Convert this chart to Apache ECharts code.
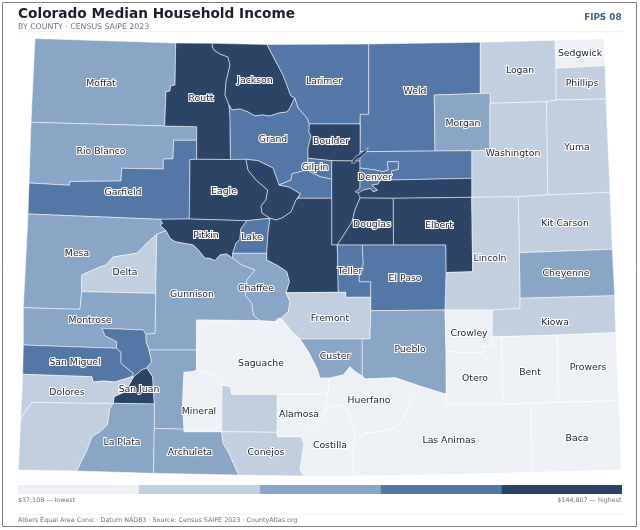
<!DOCTYPE html>
<html><head><meta charset="utf-8">
<style>html,body{margin:0;padding:0;background:#fff}#c{width:640px;height:530px}</style>
<script src="https://cdn.jsdelivr.net/npm/echarts@6/dist/echarts.min.js"></script></head>
<body><div id="c"></div>
<script>
// ---- values (class colour -> estimated income) ----
const counties = ["Moffat","Rio Blanco","Garfield","Mesa","Delta","Routt","Jackson","Larimer","Weld","Logan","Sedgwick","Phillips","Morgan","Washington","Yuma","Grand","Boulder","Eagle","Summit","Pitkin","Lake","Gilpin","Clear Creek","Jefferson","Adams","Arapahoe","Denver","Broomfield","Douglas","Elbert","Kit Carson","Cheyenne","Lincoln","Park","Chaffee","Gunnison","Teller","El Paso","Fremont","Custer","Pueblo","Crowley","Kiowa","Otero","Bent","Prowers","Montrose","San Miguel","Ouray","San Juan","Hinsdale","Dolores","Montezuma","La Plata","Archuleta","Mineral","Rio Grande","Conejos","Saguache","Alamosa","Costilla","Huerfano","Las Animas","Baca"];
const incomes = [86000,84500,109000,83000,68000,128000,131000,112000,115000,66000,45000,67000,87000,66500,68500,108000,136000,135000,133000,129000,104000,110000,113000,127000,106000,124500,107000,138000,144807,140000,64000,90000,62000,125000,88000,85000,111000,114000,69000,83500,82000,37108,63000,46000,42000,47000,84000,117000,105000,126000,89000,61000,65500,92000,91000,48000,60000,59000,44000,50000,39000,41000,47500,40000];
const unlabelled = ["Summit","Clear Creek","Jefferson","Adams","Arapahoe","Broomfield","Park","Ouray","Hinsdale","Montezuma","Rio Grande"];
const classBreaks = [37108,58648,80187,101727,123267,144807];
const classColors = ["#edf1f6","#c2cfe0","#8aa6c6","#5378a5","#2c4566"];
const titleText = "Colorado Median Household Income";
const subtitleText = "BY COUNTY · CENSUS SAIPE 2023";
const fipsText = "FIPS 08";
const lowText = "$37,108 — lowest";
const highText = "$144,807 — highest";
const footerText = "Albers Equal Area Conic · Datum NAD83 · Source: Census SAIPE 2023 · CountyAtlas.org";

// ---- basemap: county outlines and label anchors in the map's own plane ----
const outlines = {
"Moffat":[[35,38.5],[175.7,43],[175,85],[170.5,86],[170,91],[166,91.7],[164.7,126],[31,122.3]],
"Rio Blanco":[[31,122.3],[164.7,126],[196.7,126.7],[196.7,140.3],[173.7,140.3],[173,159],[163.3,159],[163.3,169],[121.7,168.3],[121,181],[70,181.5],[69.5,185.3],[29,183]],
"Garfield":[[29,183],[69.5,185.3],[70,181.5],[121,181],[121.7,168.3],[163.3,169],[163.3,159],[173,159],[173.7,140.3],[196.7,140.3],[196.7,159.3],[190,159.5],[189.3,219],[160,219.3],[28,214]],
"Mesa":[[28,214],[160,219.3],[162.7,223.3],[160,225],[166,230.7],[156.7,234.3],[146.7,243.3],[136.7,253.3],[113,257],[106,265],[100,267],[81.7,275],[81.7,291.7],[80,309.3],[23.3,307.7]],
"Delta":[[81.7,275],[100,267],[106,265],[113,257],[136.7,253.3],[146.7,243.3],[156.7,234.3],[155.7,293.3],[81.7,291.7]],
"Routt":[[175.7,43],[213,43.3],[212,46],[214,50],[220,54],[228,57],[230,65],[226,82],[225,95],[229,105],[230,115],[230.5,159.5],[196.7,159.3],[196.7,126.7],[164.7,126],[166,91.7],[170,91],[170.5,86],[175,85]],
"Jackson":[[213,43.3],[267,44.5],[274,58],[283,75],[291,96],[294.7,98],[290,108],[287,112],[279,113],[270,116],[262,115],[255,116],[248,112],[240,109],[232,110],[229,105],[225,95],[226,82],[230,65],[228,57],[220,54],[214,50],[212,46]],
"Larimer":[[267,44.5],[368.7,44],[368.7,114.3],[360.3,114.3],[360,124],[309.3,124],[307,118],[298,108],[294.7,98],[291,96],[283,75],[274,58]],
"Weld":[[368.7,44],[480.3,42.3],[480.3,93.5],[434.3,95],[435,151],[360,151.7],[360.3,114.3],[368.7,114.3]],
"Logan":[[480.3,42.3],[555,40.3],[556,68.3],[556.3,100],[546.7,101.7],[490,103.3],[490,93.3],[480.3,93.5]],
"Sedgwick":[[555,40.3],[604,38.7],[605,65.7],[556,68.3]],
"Phillips":[[556,68.3],[605,65.7],[606,99],[556.3,100]],
"Morgan":[[434.3,95],[480.3,93.5],[490,93.3],[490,150],[471.7,150.7],[435,151]],
"Washington":[[490,103.3],[546.7,101.7],[547.7,195],[518.3,196.7],[471.7,197.3],[471.7,150.7],[490,150]],
"Yuma":[[546.7,101.7],[556.3,100],[606,99],[610,192.3],[547.7,195]],
"Grand":[[229,105],[232,110],[240,109],[248,112],[255,116],[262,115],[270,116],[279,113],[287,112],[290,108],[294.7,98],[298,108],[307,118],[309.3,124],[309,132],[311,136],[308,148],[308,158.3],[306.7,170],[292,173.7],[291,180],[279,185],[273,168],[258,160.7],[246,159.3],[230.5,159.5],[230,115]],
"Boulder":[[309.3,124],[360,124],[360,161],[331.7,160.7],[308,158.3],[308,148],[311,136],[309,132]],
"Eagle":[[190,159.5],[196.7,159.3],[230.5,159.5],[246,159.3],[248,170],[256,180],[267.7,190],[266,200],[261,206],[262,213],[270,218.3],[246.7,220.7],[189.3,219]],
"Summit":[[246,159.3],[258,160.7],[273,168],[279,185],[289,187],[300.5,193.7],[296,200],[291,212],[282,218],[276,220],[270,218.3],[262,213],[261,206],[266,200],[267.7,190],[256,180],[248,170]],
"Pitkin":[[160,219.3],[189.3,219],[246.7,220.7],[240.7,229.3],[240,239.3],[236,243.3],[232.7,253.3],[232.7,258.3],[226.7,254],[220,255],[215,260.7],[210,258.3],[205,258.3],[198.3,250],[193.3,245],[175,241.7],[170,238.3],[166,230.7],[160,225],[162.7,223.3]],
"Lake":[[246.7,220.7],[270,218.3],[268,233],[266.7,253.3],[232.7,253.3],[236,243.3],[240,239.3],[240.7,229.3]],
"Gilpin":[[308,158.3],[331.7,160.7],[331.7,179.3],[320,176.7],[306.7,170]],
"Clear Creek":[[306.7,170],[320,176.7],[331.7,179.3],[331.7,198.3],[298,198.3],[300.5,193.7],[289,187],[279,185],[291,180],[292,173.7]],
"Jefferson":[[331.7,160.7],[360,161],[360,198],[355,210],[352,222],[337.3,245],[331.7,245]],
"Adams":[[360,151.7],[435,151],[471.7,150.7],[471.7,178.3],[391.7,180],[391,177.3],[391.7,170.7],[398.3,169.3],[398.3,161.7],[387.3,161.7],[388.3,170],[382.7,171.7],[375,170],[360,168]],
"Arapahoe":[[360,188.3],[363.3,190],[370,188.3],[373.3,191.7],[377.3,190],[371.7,185],[378,184],[380,180],[391.7,180],[471.7,178.3],[471.7,197.3],[393.3,198.3],[360,198],[358.3,193.3]],
"Denver":[[360,168],[375,170],[382.7,171.7],[388.3,170],[387.3,161.7],[398.3,161.7],[398.3,169.3],[391.7,170.7],[391,177.3],[391.7,180],[380,180],[378,184],[371.7,185],[377.3,190],[373.3,191.7],[370,188.3],[363.3,190],[358.3,193.3],[355,191.7],[360,188.3]],
"Broomfield":[[368.3,147.3],[366,153],[360,158],[356,160],[355,163],[351.7,163.3],[352.5,160],[356,156],[360,154],[365,150]],
"Douglas":[[360,198],[393.3,198.3],[393.5,245],[337.3,245],[352,222],[355,210]],
"Elbert":[[393.3,198.3],[471.7,197.3],[472.7,271.7],[446,272.5],[445.7,245],[393.5,245]],
"Kit Carson":[[518.3,196.7],[547.7,195],[610,192.3],[612.3,249.3],[519.3,252.7]],
"Cheyenne":[[519.3,252.7],[612.3,249.3],[614.7,295.7],[520,298.3]],
"Lincoln":[[471.7,197.3],[518.3,196.7],[519.3,252.7],[520,298.3],[520,308.3],[492.3,310],[445,310],[446,272.5],[472.7,271.7]],
"Park":[[270,218.3],[276,220],[282,218],[291,212],[296,200],[298,198.3],[331.7,198.3],[331.7,245],[337.3,245],[338.3,292.3],[286,292.7],[289.3,281.7],[286.7,271.7],[278.3,266],[266.7,260],[266.7,253.3],[268,233]],
"Chaffee":[[232.7,253.3],[266.7,253.3],[266.7,260],[278.3,266],[286.7,271.7],[289.3,281.7],[286,292.7],[290,301.7],[288.3,311.7],[281,318.3],[278.3,318.3],[275,321.7],[260,320.7],[253.3,315],[251.7,303.3],[245,295],[246.7,280],[255,270],[241.7,265],[232.7,258.3]],
"Gunnison":[[156.7,234.3],[166,230.7],[170,238.3],[175,241.7],[193.3,245],[198.3,250],[205,258.3],[210,258.3],[215,260.7],[220,255],[226.7,254],[232.7,258.3],[241.7,265],[255,270],[246.7,280],[245,295],[251.7,303.3],[253.3,315],[260,320.7],[196.7,320],[196.5,350],[149,350],[146,342],[145.7,334],[155,333.3],[155.7,293.3]],
"Teller":[[337.3,245],[362.3,245],[363.3,265],[359.3,270],[359.3,281.7],[370.7,281.7],[370.7,297.3],[345.7,297.3],[345.7,292.3],[338.3,292.3]],
"El Paso":[[362.3,245],[393.5,245],[445.7,245],[446,272.5],[445,310],[370.7,310.7],[370.7,281.7],[359.3,281.7],[359.3,270],[363.3,265]],
"Fremont":[[286,292.7],[338.3,292.3],[345.7,292.3],[345.7,297.3],[370.7,297.3],[370.7,310.7],[370,339],[362.3,339],[300,339],[291.7,331.7],[281,318.3],[288.3,311.7],[290,301.7]],
"Custer":[[300,339],[362.3,339],[362.3,376],[355,371.7],[350,366.7],[343.3,375],[330,378.3],[320,378],[316.7,368.3],[308.3,351.7]],
"Pueblo":[[370.7,310.7],[445,310],[446,351],[446,394.3],[421.7,386.7],[395,377.7],[365,379],[362.3,376],[362.3,339],[370,339]],
"Crowley":[[445,310],[492.3,310],[492.4,336.2],[492.7,346],[483.3,346.7],[483,352.7],[460,353],[446,351]],
"Kiowa":[[492.3,310],[520,308.3],[520,298.3],[614.7,295.7],[615.7,332.7],[557.3,335],[501.7,336.7],[492.4,336.2]],
"Otero":[[446,351],[460,353],[483,352.7],[483.3,346.7],[492.7,346],[492.4,336.2],[501.7,336.7],[502.7,404],[446.7,404]],
"Bent":[[501.7,336.7],[557.3,335],[558.3,402.3],[531,403.3],[502.7,404]],
"Prowers":[[557.3,335],[615.7,332.7],[619,400.7],[558.3,402.3]],
"Montrose":[[81.7,291.7],[155.7,293.3],[155,333.3],[145.7,334],[143.3,330],[102,328.3],[105,335.7],[116.7,341.7],[116.5,348.3],[23.3,345],[23.3,307.7],[80,309.3]],
"San Miguel":[[23.3,345],[116.5,348.3],[121,352.3],[121,363.3],[133.3,373.3],[131.7,376.7],[126.7,378.3],[115,382],[103.3,381],[93.3,382],[91.7,376.7],[22.7,374.3]],
"Ouray":[[102,328.3],[143.3,330],[145.7,334],[146,342],[149,350],[151.7,361.7],[146.7,368],[141.7,370],[133.7,376.7],[131.7,376.7],[133.3,373.3],[121,363.3],[121,352.3],[116.5,348.3],[116.7,341.7],[105,335.7]],
"San Juan":[[141.7,370],[146.7,368],[148.3,370],[152.7,376.7],[154.3,404],[113.3,403.3],[114,396.7],[125,391.7],[133.7,376.7]],
"Hinsdale":[[149,350],[196.5,350],[196.5,370.5],[191.7,371.7],[184,372.3],[182.7,401.7],[184,429.3],[154.3,428.3],[154.3,404],[152.7,376.7],[148.3,370],[146.7,368],[151.7,361.7]],
"Dolores":[[22.7,374.3],[91.7,376.7],[93.3,382],[103.3,381],[115,382],[126.7,378.3],[131.7,376.7],[133.7,376.7],[125,391.7],[114,396.7],[113.3,403.3],[83.3,403.3],[31.7,402.3],[20.7,418.3]],
"Montezuma":[[20.7,418.3],[31.7,402.3],[83.3,403.3],[113.3,403.3],[110,408.3],[107.3,425],[100,431.7],[92,436.7],[87,450],[83,458.3],[76.7,471],[18.3,470]],
"La Plata":[[113.3,403.3],[154.3,404],[154.3,428.3],[153.5,473.3],[76.7,471],[83,458.3],[87,450],[92,436.7],[100,431.7],[107.3,425],[110,408.3]],
"Archuleta":[[154.3,428.3],[184,429.3],[184,431.7],[221.7,431.7],[223,443.3],[229,453.3],[238.7,475],[153.5,473.3]],
"Mineral":[[184,372.3],[191.7,371.7],[196.5,370.5],[200,370],[213.3,375],[221.7,383.3],[222,385],[221.7,431.7],[184,431.7],[184,429.3],[182.7,401.7]],
"Rio Grande":[[222,385],[230.7,386.7],[231.7,394.3],[277.3,394.3],[277.3,432.3],[221.7,431.7]],
"Conejos":[[221.7,431.7],[277.3,432.3],[277.3,436.7],[301.7,436.7],[304,445],[302,458],[300,470],[304,476],[238.7,475],[229,453.3],[223,443.3]],
"Saguache":[[196.7,320],[260,320.7],[275,321.7],[278.3,318.3],[281,318.3],[291.7,331.7],[300,339],[308.3,351.7],[316.7,368.3],[320,378],[329.3,378],[328.3,392],[320,394.5],[277.3,394.3],[231.7,394.3],[230.7,386.7],[222,385],[221.7,383.3],[213.3,375],[200,370],[196.5,370.5]],
"Alamosa":[[277.3,394.3],[320,394.5],[328.3,392],[325,411.7],[320,420],[301.7,436.7],[277.3,436.7]],
"Costilla":[[301.7,436.7],[320,420],[325,411.7],[333.3,406.7],[340,405],[348,410],[351.7,425],[355,430.7],[353.3,443],[353.3,476],[304,476],[300,470],[302,458],[304,445]],
"Huerfano":[[329.3,378],[330,378.3],[343.3,375],[350,366.7],[355,371.7],[362.3,376],[365,379],[395,377.7],[421.7,386.7],[410,401.7],[403,420],[393.3,428.3],[380,431.7],[365,433],[353.3,443],[355,430.7],[351.7,425],[348,410],[340,405],[333.3,406.7],[325,411.7],[328.3,392]],
"Las Animas":[[353.3,443],[365,433],[380,431.7],[393.3,428.3],[403,420],[410,401.7],[421.7,386.7],[446,394.3],[446.7,404],[502.7,404],[531,403.3],[531.7,472.3],[440,474.7],[353.3,476]],
"Baca":[[531,403.3],[558.3,402.3],[619,400.7],[621.3,470],[531.7,472.3]]
};
const labelAnchors = {"Moffat":[101,83],"Routt":[201,98],"Jackson":[255,80],"Larimer":[324,81],"Weld":[415,91],"Logan":[520,70],"Sedgwick":[580,53],"Phillips":[582,83],"Rio Blanco":[101,151],"Garfield":[123,192],"Grand":[273,139],"Boulder":[331,141],"Morgan":[463,123],"Washington":[513,153],"Yuma":[577,147],"Eagle":[224,191],"Gilpin":[315,167],"Denver":[375,177],"Douglas":[372,224],"Elbert":[439,225],"Kit Carson":[565,223],"Lincoln":[490,258],"Cheyenne":[566,273],"Mesa":[77,253],"Delta":[125,272],"Pitkin":[206,235],"Lake":[252,237],"Gunnison":[192,294],"Chaffee":[256,288],"Teller":[350,271],"El Paso":[405,278],"Fremont":[330,318],"Custer":[335,356],"Pueblo":[410,349],"Crowley":[469,333],"Kiowa":[555,322],"Otero":[475,378],"Bent":[530,372],"Prowers":[588,367],"Montrose":[90,320],"San Miguel":[75,362],"San Juan":[139,389],"Saguache":[261,363],"Dolores":[67,392],"Mineral":[199,411],"Alamosa":[299,414],"Huerfano":[369,400],"La Plata":[122,442],"Archuleta":[190,452],"Conejos":[266,452],"Costilla":[330,445],"Las Animas":[449,440],"Baca":[577,438]};

const geojson = {type:"FeatureCollection",features:counties.map(n=>({
  type:"Feature",
  properties:{name:n,cp:labelAnchors[n]||outlines[n][0]},
  geometry:{type:"Polygon",coordinates:[outlines[n].concat([outlines[n][0]])]}
}))};
echarts.registerMap("colorado",geojson);

const FONT='"DejaVu Sans"';
const chart=echarts.init(document.getElementById("c"),null,{renderer:"canvas",width:640,height:530});
chart.setOption({
  animation:false,
  backgroundColor:"#fff",
  title:{text:titleText,subtext:subtitleText,left:18,top:6.5,padding:0,itemGap:0,
    textStyle:{fontFamily:FONT,fontSize:13.7,fontWeight:"bold",color:"#1a1f2b",lineHeight:16},
    subtextStyle:{fontFamily:FONT,fontSize:7.8,color:"#6b7280",lineHeight:9}},
  tooltip:{show:false},
  visualMap:{type:"piecewise",seriesIndex:0,orient:"horizontal",left:18,top:485,padding:0,
    itemWidth:120.8,itemHeight:9,itemGap:0,itemSymbol:"rect",showLabel:false,selectedMode:false,hoverLink:false,
    pieces:classColors.map((c,i)=>({min:classBreaks[i],max:classBreaks[i+1],color:c}))},
  series:[{type:"map",map:"colorado",roam:false,silent:true,
    projection:{project:p=>[p[0],p[1]],unproject:p=>[p[0],p[1]]},
    boundingCoords:[[0,0],[640,530]],left:0,top:0,width:640,height:530,
    itemStyle:{borderColor:"rgba(255,255,255,0.85)",borderWidth:0.6},
    emphasis:{disabled:true},select:{disabled:true},
    label:{show:false},
    data:counties.map((n,i)=>({name:n,value:incomes[i],
      label:{show:unlabelled.indexOf(n)<0,offset:[0,1],fontFamily:FONT,fontSize:9.3,color:"#222733",textBorderColor:"#fff",textBorderWidth:2.2}}))
  }],
  graphic:[
    {type:"rect",silent:true,z:-1,shape:{x:2.5,y:2.5,width:634,height:524},style:{fill:"#fff",stroke:"#808080",lineWidth:1}},
    {type:"rect",silent:true,shape:{x:18,y:31,width:604,height:1.2},style:{fill:"#f1f3f6"}},
    {type:"rect",silent:true,shape:{x:18,y:513.6,width:604,height:1.2},style:{fill:"#f1f3f6"}},
    {type:"text",silent:true,x:621.5,y:17.5,style:{text:fipsText,align:"right",verticalAlign:"middle",font:'bold 8.8px "DejaVu Sans"',fill:"#3f5f8a"}},
    {type:"text",silent:true,x:18,y:500,style:{text:lowText,align:"left",verticalAlign:"middle",font:'6.35px "DejaVu Sans"',fill:"#6b7280"}},
    {type:"text",silent:true,x:621.5,y:500,style:{text:highText,align:"right",verticalAlign:"middle",font:'6.35px "DejaVu Sans"',fill:"#6b7280"}},
    {type:"text",silent:true,x:18,y:520,style:{text:footerText,align:"left",verticalAlign:"middle",font:'6.4px "DejaVu Sans"',fill:"#6b7280"}}
  ]
});
</script></body></html>
